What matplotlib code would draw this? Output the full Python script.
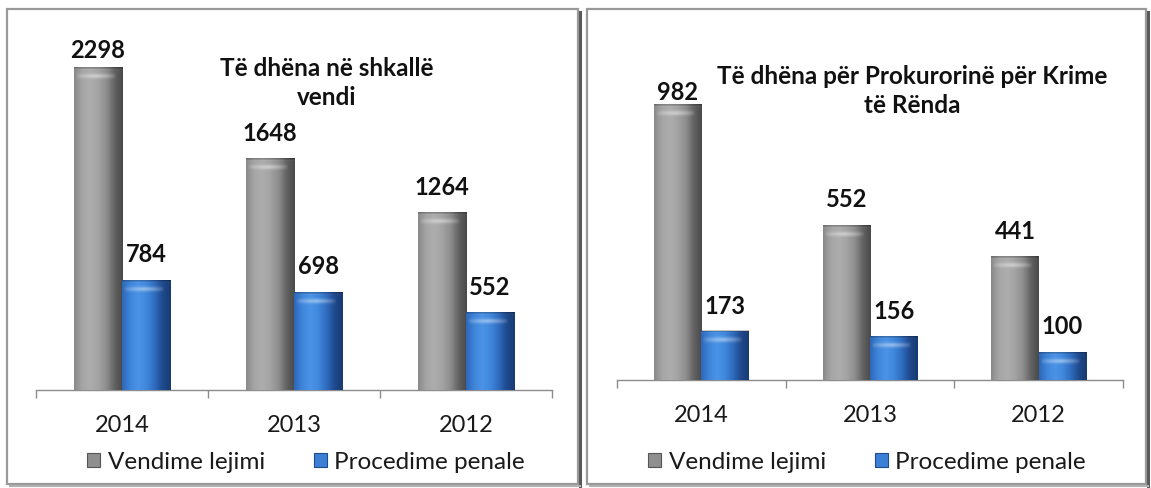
import numpy as np
import matplotlib
matplotlib.use("Agg")
import matplotlib.pyplot as plt
from matplotlib.patches import Rectangle
from matplotlib.lines import Line2D
from matplotlib.colors import LinearSegmentedColormap

# ---------------- data ----------------
years = ["2014", "2013", "2012"]
series_names = ["Vendime lejimi", "Procedime penale"]
left_vendime = [2298, 1648, 1264]
left_procedime = [784, 698, 552]
right_vendime = [982, 552, 441]
right_procedime = [173, 156, 100]
left_title = "Të dhëna në shkallë\nvendi"
right_title = "Të dhëna për Prokurorinë për Krime\ntë Rënda"

plt.rcParams['font.family'] = ['Lato', 'DejaVu Sans']

W, H = 1151, 489
DPI = 100
fig = plt.figure(figsize=(W / DPI, H / DPI), dpi=DPI)
fig.patch.set_facecolor('white')


def fx(x):
    return x / W


def fy(y):
    return 1 - y / H


# ---------------- panels ----------------
def panel(x0, x1, y0, y1):
    fig.add_artist(Rectangle((fx(x0), fy(y1)), fx(x1) - fx(x0), fy(y0) - fy(y1),
                             transform=fig.transFigure, facecolor='white',
                             edgecolor='#9a9a9a', lw=1.6, zorder=0))
    # shadow on right and bottom
    fig.add_artist(Line2D([fx(x1 + 1.5), fx(x1 + 1.5)], [fy(y0 + 3), fy(y1 + 1.5)],
                          transform=fig.transFigure, color='#5a5a5a', lw=2.2, zorder=0))
    fig.add_artist(Line2D([fx(x0 + 3), fx(x1 + 1.5)], [fy(y1 + 1.5), fy(y1 + 1.5)],
                          transform=fig.transFigure, color='#b0b0b0', lw=1.5, zorder=0))


panel(7, 578, 10, 485)
panel(587, 1146, 10, 485)

gray_cmap = LinearSegmentedColormap.from_list(
    'g', ['#8a8a8a', '#a6a6a6', '#adadad', '#a3a3a3', '#8e8e8e', '#636363', '#4a4a4a'])
blue_cmap = LinearSegmentedColormap.from_list(
    'b', ['#2d67b8', '#3f86da', '#4b93e6', '#4088dc', '#2f6cbf', '#1f4a8e', '#183a72'])

grad = np.linspace(0, 1, 64).reshape(1, -1)

# highlight cap image
cap_rows, cap_cols = 16, 48
rr = np.arange(cap_rows)[:, None]
cc = np.linspace(0, 1, cap_cols)[None, :]
v_prof = np.exp(-((rr - 8.5) / 2.2) ** 2) * 0.45
h_prof = np.clip(1 - np.abs(cc - 0.45) / 0.42, 0, 1) ** 0.5
cap = np.zeros((cap_rows, cap_cols, 4))
cap[..., :3] = 1.0
cap[..., 3] = v_prof * h_prof
rim_alpha = np.where(rr < 2, 0.22, 0.0) * np.ones_like(cc)
cap[..., 3] = np.maximum(cap[..., 3], rim_alpha)
cap[rr[:, 0] < 2, :, :3] = 0.0


def draw_panel(ax, vend, proc, ymax, title, title_xy, legend_cx):
    x = np.arange(len(years))
    w = 0.28
    ax.set_xlim(-0.5, len(years) - 0.5)
    ax.set_ylim(0, ymax)
    ax.patch.set_alpha(0)
    for s in ['left', 'right', 'top']:
        ax.spines[s].set_visible(False)
    ax.spines['bottom'].set_color('#8c8c8c')
    ax.spines['bottom'].set_linewidth(1.0)
    ax.set_yticks([])
    ax.set_xticks(np.arange(-0.5, len(years), 1.0))
    ax.set_xticklabels([])
    ax.tick_params(axis='x', which='major', direction='out', length=5.5,
                   color='#8c8c8c', width=1.0)
    ax.set_xticks(x, minor=True)
    ax.set_xticklabels(years, minor=True)
    ax.tick_params(axis='x', which='minor', length=0, pad=17.5, labelsize=17,
                   labelcolor='#1a1a1a')

    bars_v = ax.bar(x - w / 2, vend, w, color='#9a9a9a', zorder=2, lw=0)
    bars_p = ax.bar(x + w / 2, proc, w, color='#3c80d6', zorder=2, lw=0)

    ax_h_px = ax.get_position().height * H
    data_per_px = ymax / ax_h_px
    for bars, cmap in [(bars_v, gray_cmap), (bars_p, blue_cmap)]:
        for b in bars:
            x0, bw, bh = b.get_x(), b.get_width(), b.get_height()
            im = ax.imshow(grad, extent=[x0, x0 + bw, 0, bh], aspect='auto',
                           cmap=cmap, zorder=3, interpolation='bicubic')
            im.set_clip_path(b)
            cap_h = min(cap_rows * data_per_px, bh)
            ax.imshow(cap, extent=[x0, x0 + bw, bh - cap_h, bh], aspect='auto',
                      zorder=4, interpolation='bicubic')
    ax.set_xlim(-0.5, len(years) - 0.5)
    ax.set_ylim(0, ymax)

    # value labels, kept inside plot area like Excel
    top_disp = ax.transAxes.transform((0, 1))[1]
    for bars, vals in [(bars_v, vend), (bars_p, proc)]:
        for b, v in zip(bars, vals):
            cx = b.get_x() + b.get_width() / 2
            ty = ax.transData.transform((cx, v))[1]
            center = min(ty + 26, top_disp - 8)
            off_pts = (center - ty) * 72 / DPI
            ax.annotate(str(v), xy=(cx, v), xytext=(0, off_pts),
                        textcoords='offset points', ha='center', va='center',
                        fontsize=17, fontweight='bold', color='#111111', zorder=6)

    fig.text(fx(title_xy[0]), fy(title_xy[1]), title, ha='center', va='center',
             multialignment='center', fontsize=17.5, fontweight='bold',
             color='#111111', linespacing=1.3)

    handles = [Rectangle((0, 0), 1, 1, facecolor='#8f8f8f', edgecolor='#555555', lw=0.8),
               Rectangle((0, 0), 1, 1, facecolor='#3c80d6', edgecolor='#1f4a8e', lw=0.8)]
    fig.legend(handles, series_names, loc='center', ncol=2, frameon=False,
               bbox_to_anchor=(fx(legend_cx), fy(463)), fontsize=17.5,
               handlelength=0.55, handleheight=0.55, handletextpad=0.3,
               columnspacing=2.0, labelcolor='#1a1a1a')


axL = fig.add_axes([fx(36), fy(391), (552 - 36) / W, (391 - 42) / H])
draw_panel(axL, left_vendime, left_procedime, (391 - 42) / 0.1405, left_title,
           (327, 83), 306)

axR = fig.add_axes([fx(617), fy(381), (1123 - 617) / W, (381 - 85) / H])
draw_panel(axR, right_vendime, right_procedime, (381 - 85) / 0.281, right_title,
           (912, 91), 867)

fig.savefig('out.png', dpi=DPI)
